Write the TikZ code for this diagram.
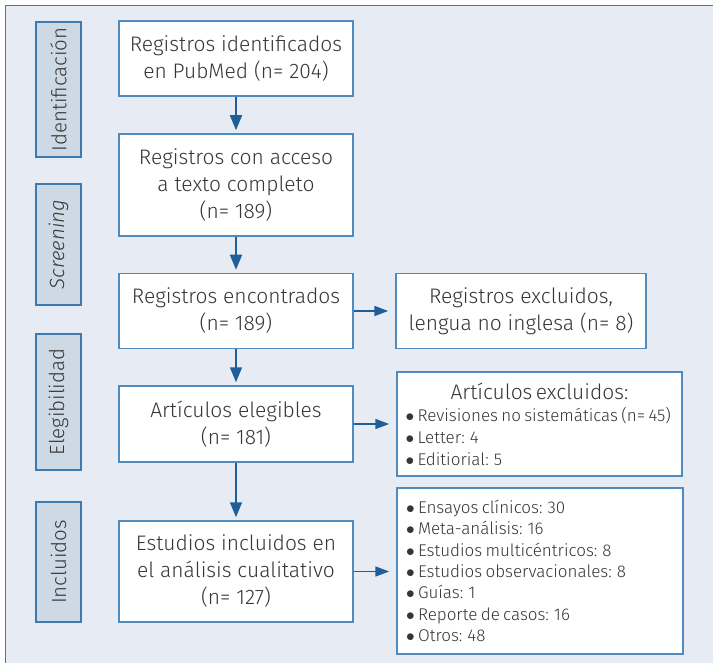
\documentclass[tikz,border=0pt]{standalone}
\usepackage{fontspec}
\setmainfont{Fira Sans}[UprightFont=* Light, ItalicFont=* Light Italic]
\usetikzlibrary{arrows.meta}
\definecolor{bgc}{HTML}{E7EBF3}
\definecolor{framec}{HTML}{6E6E6E}
\definecolor{boxc}{HTML}{4F8BBF}
\definecolor{sidefill}{HTML}{CED9E6}
\definecolor{sidec}{HTML}{3C7AB0}
\definecolor{arrc}{HTML}{1F5E96}
\definecolor{txt}{HTML}{363636}
\newcommand\bul{\makebox[16pt][l]{\hspace{4pt}$\bullet$}}
\tikzset{
  mainbox/.style={draw=boxc, line width=1.5pt, fill=white, minimum width=234pt, inner sep=2pt,
    align=center, text=txt, font=\fontsize{21}{27}\selectfont},
  sidebox/.style={draw=sidec, line width=1.5pt, fill=sidefill, rotate=90, minimum height=45pt,
    inner sep=0pt, text=txt, font=\fontsize{20.5}{22}\selectfont},
  rbox/.style={draw=boxc, line width=1.5pt, fill=white, inner sep=0pt, text=txt},
  arr/.style={draw=arrc, line width=1.6pt, -{Triangle[length=15pt,width=12pt]}, shorten >=3pt},
  harr/.style={draw=arrc, line width=1.6pt, -{Triangle[length=14pt,width=10pt]}, shorten >=7pt}
}
\begin{document}
\begin{tikzpicture}[x=1pt,y=-1pt]
\useasboundingbox (0,0) rectangle (715,663);
\fill[bgc] (6,6) rectangle (713,663);
\draw[framec, line width=1.2pt] (5.6,663) -- (5.6,5.6) -- (713,5.6);
% side labels
\node[sidebox, minimum width=135pt] (s1) at (58.5,89.5) {Identificación};
\node[sidebox, minimum width=121pt] (s2) at (58.5,244.5) {\itshape Screening};
\node[sidebox, minimum width=136pt] (s3) at (58.5,402) {Elegibilidad};
\node[sidebox, minimum width=120pt] (s4) at (58.5,562) {Incluidos};
% main boxes
\node[mainbox, minimum height=75pt] (b1) at (236,58.5) {Registros identificados\\en PubMed (n= 204)};
\node[mainbox, minimum height=102pt] (b2) at (236,185) {Registros con acceso\\a texto completo\\(n= 189)};
\node[mainbox, minimum height=75pt] (b3) at (236,311) {Registros encontrados\\(n= 189)};
\node[mainbox, minimum height=76pt] (b4) at (236,424) {Artículos elegibles\\(n= 181)};
\node[mainbox, minimum height=101pt] (b5) at (236,571.5) {Estudios incluidos en\\el análisis cualitativo\\(n= 127)};
% right boxes
\node[rbox, minimum width=250pt, minimum height=75pt, align=center, font=\fontsize{21}{27}\selectfont] (r1) at (521,311) {Registros excluidos,\\lengua no inglesa (n= 8)};
\node[rbox, minimum width=285pt, minimum height=104pt, text width=276pt] (r2) at (539.5,424) {%
  {\centering\fontsize{21}{22}\selectfont Artículos excluidos:\par}%
  \raggedright\fontsize{17}{22}\selectfont
  \bul Revisiones no sistemáticas (n= 45)\\
  \bul Letter: 4\\
  \bul Editiorial: 5\par};
\node[rbox, minimum width=286pt, minimum height=166pt, text width=276pt] (r3) at (540,571) {%
  \raggedright\fontsize{17}{21.3}\selectfont
  \bul Ensayos clínicos: 30\\
  \bul Meta-análisis: 16\\
  \bul Estudios multicéntricos: 8\\
  \bul Estudios observacionales: 8\\
  \bul Guías: 1\\
  \bul Reporte de casos: 16\\
  \bul Otros: 48\par};
% arrows
\draw[arr] (b1) -- (b2);
\draw[arr] (b2) -- (b3);
\draw[arr] (b3) -- (b4);
\draw[arr] (b4) -- (b5);
\draw[harr] (b3) -- (r1);
\draw[harr] (b4) -- (r2);
\draw[harr] (b5) -- (b5 -| r3.west);
\end{tikzpicture}
\end{document}
